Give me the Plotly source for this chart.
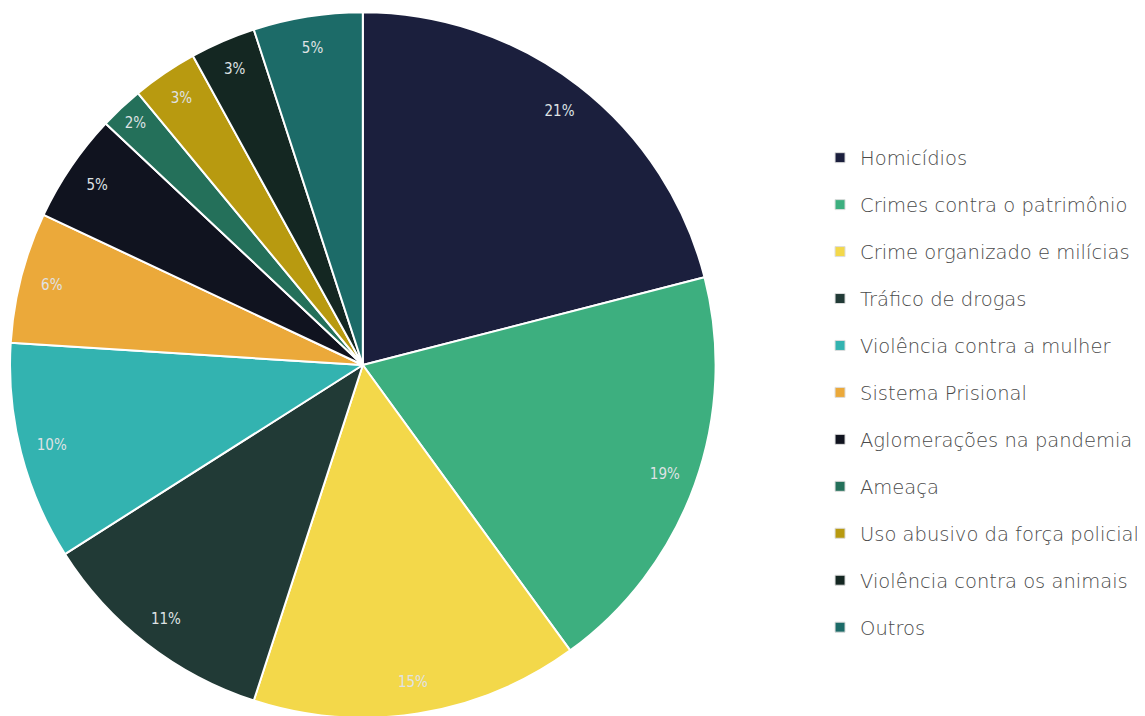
import plotly.graph_objects as go

categories = [
    "Homicídios",
    "Crimes contra o patrimônio",
    "Crime organizado e milícias",
    "Tráfico de drogas",
    "Violência contra a mulher",
    "Sistema Prisional",
    "Aglomerações na pandemia",
    "Ameaça",
    "Uso abusivo da força policial",
    "Violência contra os animais",
    "Outros",
]
values = [21, 19, 15, 11, 10, 6, 5, 2, 3, 3, 5]
colors = [
    "#1b1f3d", "#3daf7f", "#f3d84a", "#213a36", "#33b3b0", "#eba93a",
    "#10131f", "#24705a", "#b89a10", "#142722", "#1c6b68",
]

FONT = "DejaVu Sans"
LABEL_FONT = "DejaVu Sans Condensed, DejaVu Sans"
PIE_DOMAIN = dict(x=[0.00175, 0.618], y=[0.0084, 1])

fig = go.Figure()
# slices
fig.add_trace(go.Pie(
    labels=categories,
    values=values,
    marker=dict(colors=colors, line=dict(color="white", width=2)),
    sort=False,
    direction="clockwise",
    rotation=0,
    textinfo="none",
    showlegend=False,
    hoverinfo="label+percent",
    domain=PIE_DOMAIN,
))
# percentage labels near the rim (transparent ring carrying the text)
fig.add_trace(go.Pie(
    labels=categories,
    values=values,
    hole=0.82,
    marker=dict(colors=["rgba(0,0,0,0)"] * len(values), line=dict(width=0)),
    sort=False,
    direction="clockwise",
    rotation=0,
    textinfo="percent",
    texttemplate="%{percent:.0%}",
    textposition="inside",
    insidetextorientation="horizontal",
    textfont=dict(family=LABEL_FONT, size=15, color="#dfe2e4", weight=300),
    showlegend=False,
    hoverinfo="skip",
    domain=PIE_DOMAIN,
))

for cat, col in zip(categories, colors):
    fig.add_trace(go.Scatter(
        x=[None], y=[None], mode="markers", name=cat,
        marker=dict(symbol="square", size=10, color=col,
                    line=dict(color="#dddddd", width=1)),
        legendgroup=cat, showlegend=True,
    ))

fig.update_layout(
    width=1145, height=716,
    margin=dict(l=0, r=0, t=4, b=0),
    paper_bgcolor="white", plot_bgcolor="white",
    xaxis=dict(visible=False), yaxis=dict(visible=False),
    legend=dict(
        x=0.7092, y=0.4656, xanchor="left", yanchor="middle",
        font=dict(family=FONT, size=19.5, color="#4a4a4a", weight=300),
        tracegroupgap=18.6, itemclick=False,
    ),
)

fig.write_html("out.html")
